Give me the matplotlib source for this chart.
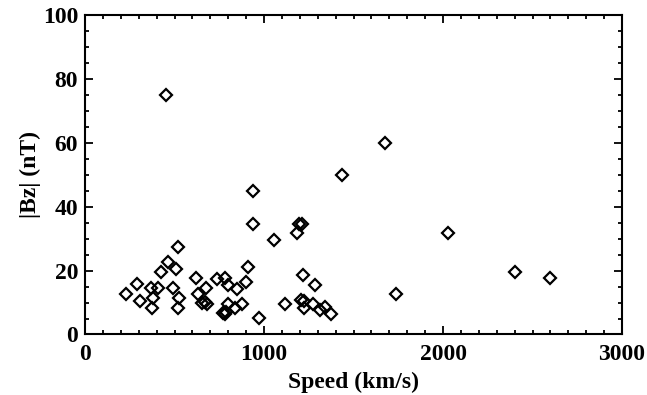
import numpy as np
import matplotlib
matplotlib.use("Agg")
import matplotlib.pyplot as plt
from matplotlib.ticker import MultipleLocator

# speed (km/s) and |Bz| (nT)
speed = [452, 1676, 1436, 940, 937, 1194, 1212, 1186, 2030, 1056,
         2402, 2599, 1740,
         229, 289, 307, 369, 378, 376, 406, 425, 465, 508, 490, 527, 518, 521,
         618, 630, 676, 736, 655, 668, 680,
         782, 797, 847, 899, 912, 801, 879, 838, 770, 780, 790, 972,
         1119, 1216, 1285, 1205, 1225, 1225, 1272, 1313, 1341, 1373]
bz = [75.0, 60.0, 49.8, 44.8, 34.6, 34.6, 34.6, 31.7, 31.7, 29.6,
      19.6, 17.6, 12.6,
      12.6, 15.8, 10.6, 14.5, 11.5, 8.4, 14.5, 19.4, 22.8, 20.4, 14.5, 11.5, 8.4, 27.4,
      17.6, 12.6, 14.5, 17.3, 9.8, 10.2, 9.5,
      17.6, 15.5, 14.2, 16.3, 21.2, 9.6, 9.6, 8.2, 6.8, 6.3, 7.0, 5.3,
      9.6, 18.6, 15.5, 10.9, 10.4, 8.2, 9.6, 7.7, 8.7, 6.4]

plt.rcParams['font.family'] = ['Liberation Serif', 'DejaVu Serif']
plt.rcParams['font.weight'] = 'bold'

fig = plt.figure(figsize=(6.47, 3.95), dpi=100)
ax = fig.add_axes([0.1314, 0.1532, 0.830, 0.809])

ax.plot(speed, bz, linestyle='none', marker='D', markersize=6,
        markerfacecolor='none', markeredgecolor='black', markeredgewidth=1.6)

ax.set_xlim(0, 3000)
ax.set_ylim(0, 100)
ax.xaxis.set_major_locator(MultipleLocator(1000))
ax.xaxis.set_minor_locator(MultipleLocator(100))
ax.yaxis.set_major_locator(MultipleLocator(20))
ax.yaxis.set_minor_locator(MultipleLocator(5))
ax.tick_params(which='both', direction='in', top=True, right=True, width=1.3,
               labelsize=17)
ax.tick_params(axis='x', pad=7)
ax.tick_params(axis='y', pad=5)
ax.tick_params(which='major', length=6)
ax.tick_params(which='minor', length=3)
for s in ax.spines.values():
    s.set_linewidth(1.5)

ax.set_xlabel('Speed (km/s)', fontsize=17, fontweight='bold', labelpad=5)
ax.set_ylabel('|Bz| (nT)', fontsize=17, fontweight='bold', labelpad=1)

fig.savefig('out.png', dpi=100)
